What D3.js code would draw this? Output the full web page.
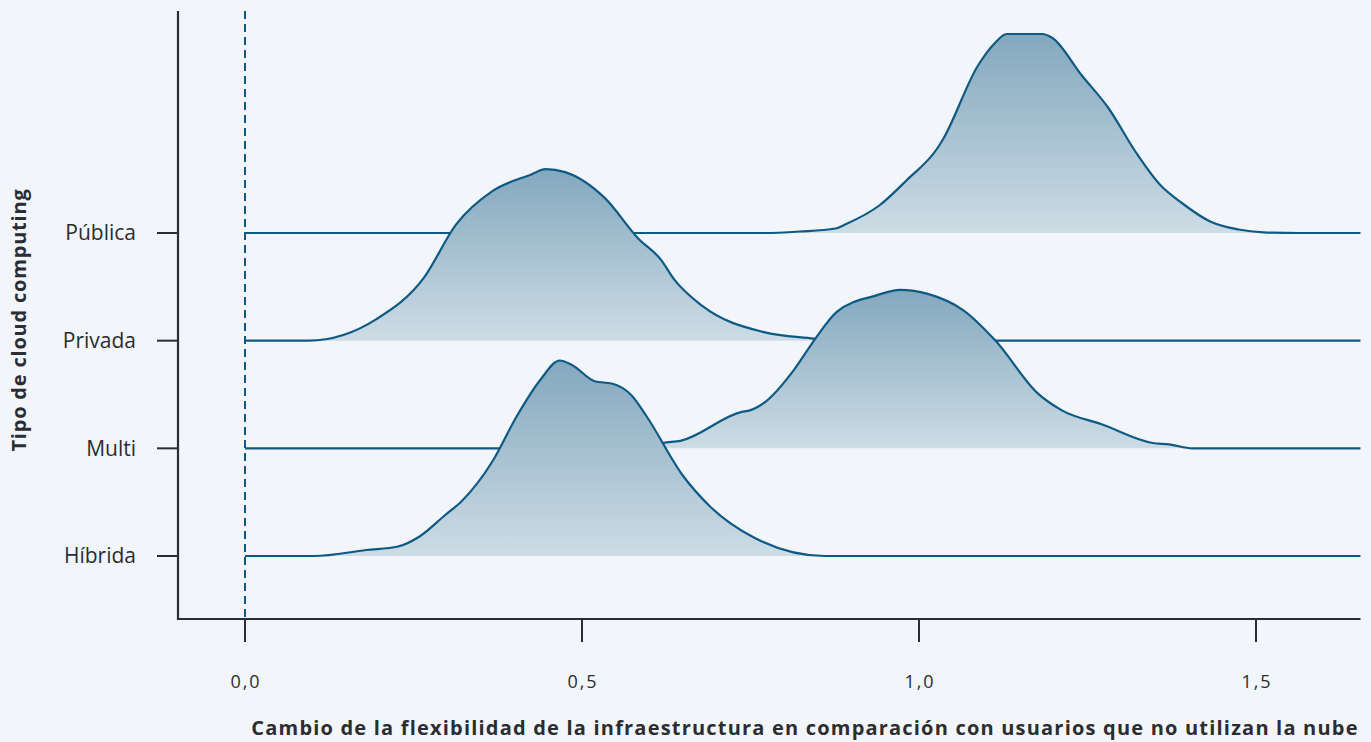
<!DOCTYPE html>
<html lang="es">
<head>
<meta charset="utf-8">
<script src="https://cdn.jsdelivr.net/npm/d3@7"></script>
<style>
  html, body { margin: 0; padding: 0; background: #f2f6fa; }
  svg { display: block; font-family: "Open Sans", Roboto, "Noto Sans", sans-serif; }
</style>
</head>
<body>
<svg id="chart" width="1371" height="742"></svg>
<script>
// Cloud computing types, top to bottom
const categories = ["Pública", "Privada", "Multi", "Híbrida"];

// Density estimates: [change in flexibility, density]
const publica = [
  [0.770, 0], [0.823, 0.03], [0.876, 0.09], [0.892, 0.18], [0.942, 0.56], [0.982, 1.06],
  [1.027, 1.69], [1.035, 1.86], [1.088, 3.36], [1.112, 3.79], [1.130, 3.98], [1.183, 3.98],
  [1.197, 3.91], [1.241, 3.16], [1.281, 2.50], [1.321, 1.63], [1.358, 0.96], [1.390, 0.60],
  [1.432, 0.23], [1.474, 0.07], [1.511, 0.014], [1.565, 0]
];
const privada = [
  [0.095, 0], [0.195, 0.43], [0.265, 1.25], [0.313, 2.32], [0.367, 2.99], [0.424, 3.32],
  [0.446, 3.43], [0.475, 3.37], [0.534, 2.85], [0.583, 2.05], [0.617, 1.62], [0.637, 1.22],
  [0.679, 0.69], [0.770, 0.17], [0.844, 0.04], [0.870, 0]
];
const multi = [
  [0.560, 0], [0.605, 0.06], [0.620, 0.107], [0.646, 0.15], [0.737, 0.73], [0.749, 0.76],
  [0.772, 0.93], [0.814, 1.56], [0.846, 2.19], [0.878, 2.73], [0.937, 3.06], [0.972, 3.17],
  [1.013, 3.09], [1.066, 2.76], [1.113, 2.16], [1.177, 1.09], [1.212, 0.76], [1.271, 0.48],
  [1.347, 0.106], [1.371, 0.08], [1.406, 0]
];
const hibrida = [
  [0.103, 0], [0.180, 0.12], [0.227, 0.19], [0.259, 0.39], [0.297, 0.82], [0.321, 1.09],
  [0.367, 1.89], [0.403, 2.79], [0.438, 3.52], [0.467, 3.91], [0.485, 3.82], [0.520, 3.49],
  [0.544, 3.45], [0.573, 3.22], [0.596, 2.79], [0.649, 1.62], [0.690, 0.99], [0.755, 0.37],
  [0.860, 0]
];
const densities = [publica, privada, multi, hibrida];

// Axis ticks and titles
const xTicks = [0, 0.5, 1.0, 1.5];
const xTickLabels = ["0,0", "0,5", "1,0", "1,5"];
const xTitle = "Cambio de la flexibilidad de la infraestructura en comparación con usuarios que no utilizan la nube";
const yTitle = "Tipo de cloud computing";

const svg = d3.select("#chart");
const lineColor = "#0f5a85";
const axisColor = "#2b2d30";
const textColor = "#2b2d30";
const xMin = -0.1, xMax = 1.655;

const x = d3.scaleLinear().domain([0, 1.5]).range([245, 1256]);
const y = d3.scalePoint().domain(categories).range([233, 556]);
// Density height in pixels
const h = d3.scaleLinear().domain([0, 1]).range([0, 50]);

// Vertical gradient for each ridge fill
const defs = svg.append("defs");
const grad = defs.append("linearGradient")
  .attr("id", "ridgeFill").attr("x1", 0).attr("y1", 0).attr("x2", 0).attr("y2", 1);
grad.append("stop").attr("offset", "0%").attr("stop-color", "#83a8be");
grad.append("stop").attr("offset", "100%").attr("stop-color", "#cddce5");

// Zero reference line
svg.append("line")
  .attr("x1", x(0)).attr("x2", x(0))
  .attr("y1", 11).attr("y2", 619)
  .attr("stroke", lineColor).attr("stroke-width", 2)
  .attr("stroke-dasharray", "8,5");

// Ridges, drawn top to bottom so lower ones sit in front
categories.forEach((cat, i) => {
  const base = y(cat);
  const pts = [[0, 0], ...densities[i], [xMax, 0]];
  const area = d3.area()
    .x(d => x(d[0])).y0(base).y1(d => base - h(d[1]))
    .curve(d3.curveMonotoneX);
  const line = d3.line()
    .x(d => x(d[0])).y(d => base - h(d[1]))
    .curve(d3.curveMonotoneX);
  const g = svg.append("g");
  g.append("path").attr("d", area(densities[i])).attr("fill", "url(#ridgeFill)");
  g.append("path").attr("d", line(pts))
    .attr("fill", "none").attr("stroke", lineColor)
    .attr("stroke-width", 2.2).attr("stroke-linejoin", "round");
});

// Y axis
const yAxis = svg.append("g");
yAxis.append("line")
  .attr("x1", 178).attr("x2", 178).attr("y1", 11).attr("y2", 620)
  .attr("stroke", axisColor).attr("stroke-width", 2.2);
yAxis.selectAll(".ytick").data(categories).join("line")
  .attr("x1", 157).attr("x2", 178)
  .attr("y1", d => y(d)).attr("y2", d => y(d))
  .attr("stroke", axisColor).attr("stroke-width", 2);
yAxis.selectAll(".ylab").data(categories).join("text")
  .attr("x", 136).attr("y", d => y(d))
  .attr("dy", "0.35em").attr("text-anchor", "end")
  .attr("font-size", 21).attr("fill", textColor)
  .text(d => d);
svg.append("text")
  .attr("transform", "translate(26,320) rotate(-90)")
  .attr("text-anchor", "middle")
  .attr("font-size", 20).attr("font-weight", 700).attr("fill", textColor)
  .attr("letter-spacing", 0.8)
  .text(yTitle);

// X axis
const xAxis = svg.append("g");
xAxis.append("line")
  .attr("x1", x(xMin)).attr("x2", x(xMax)).attr("y1", 619).attr("y2", 619)
  .attr("stroke", axisColor).attr("stroke-width", 2.2);
xAxis.selectAll(".xtick").data(xTicks).join("line")
  .attr("x1", d => x(d)).attr("x2", d => x(d))
  .attr("y1", 619).attr("y2", 642)
  .attr("stroke", axisColor).attr("stroke-width", 2);
xAxis.selectAll(".xlab").data(xTicks).join("text")
  .attr("x", d => x(d) + 1).attr("y", 688)
  .attr("text-anchor", "middle")
  .attr("font-size", 18).attr("fill", textColor)
  .attr("letter-spacing", 2)
  .text((d, i) => xTickLabels[i]);
svg.append("text")
  .attr("x", 805).attr("y", 735)
  .attr("text-anchor", "middle")
  .attr("font-size", 20).attr("font-weight", 700).attr("fill", textColor)
  .attr("letter-spacing", 1.2)
  .text(xTitle);
</script>
</body>
</html>
